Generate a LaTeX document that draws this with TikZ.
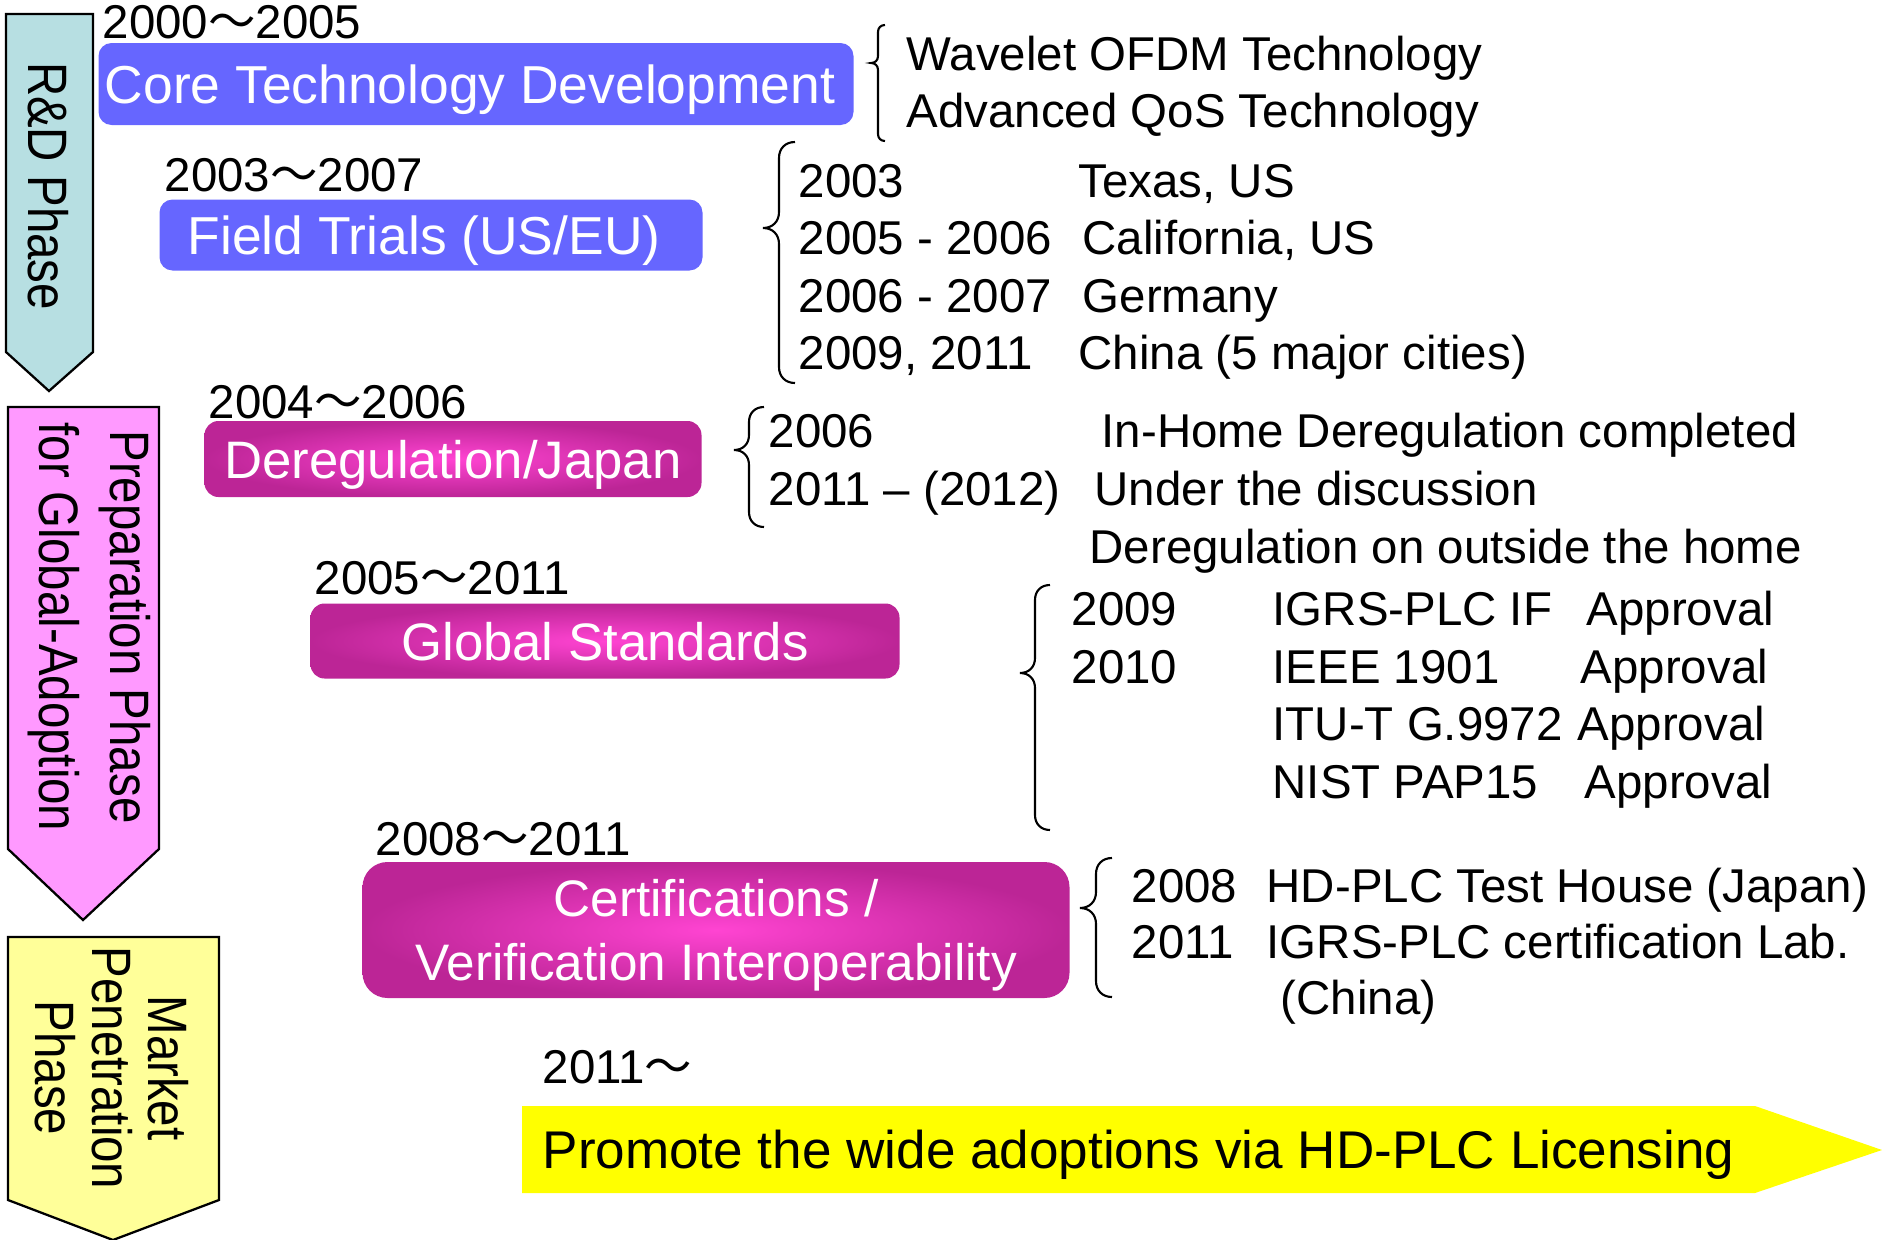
\documentclass[tikz,border=0pt]{standalone}
\usepackage{fontspec}
\setmainfont{Liberation Sans}
\newfontfamily\cjk{Noto Sans CJK JP}
\usepackage{tikz}
\newcommand{\til}{{\cjk ～}}
\definecolor{rdteal}{HTML}{B7DFE2}
\definecolor{prepink}{HTML}{FF99FF}
\definecolor{mktyellow}{HTML}{FFFF99}
\definecolor{techblue}{HTML}{6666FF}
\definecolor{magout}{HTML}{BC2596}
\definecolor{magin}{HTML}{FF44D2}
\definecolor{promoyellow}{HTML}{FFFF00}
\newcommand{\curlybr}[5]{%
  \draw[brc] ({#1+#2},#3) .. controls ({#1+0.7*#2},#3) and ({#1+0.5*#2},{#3+0.2*#2}) .. ({#1+0.5*#2},{#3+0.5*#2})
    -- ({#1+0.5*#2},{#4-0.5*#2}) .. controls ({#1+0.5*#2},{#4-0.2*#2}) and ({#1+0.3*#2},#4) .. (#1,#4)
    .. controls ({#1+0.3*#2},#4) and ({#1+0.5*#2},{#4+0.2*#2}) .. ({#1+0.5*#2},{#4+0.5*#2})
    -- ({#1+0.5*#2},{#5-0.5*#2}) .. controls ({#1+0.5*#2},{#5-0.2*#2}) and ({#1+0.7*#2},#5) .. ({#1+#2},#5);}

\begin{document}
\begin{tikzpicture}[x=0.1mm,y=-0.1mm,
  txt/.style={anchor=base west,inner sep=0pt,font=\fontsize{13.5}{16.3}\selectfont},
  phase/.style={draw=black,line width=0.65pt},
  phasetxt/.style={rotate=-90,yscale=1.17,align=center,inner sep=0pt,font=\fontsize{13.5}{16.3}\selectfont},
  bluebox/.style={fill=techblue,rounded corners=1.3mm,text=white,inner sep=0pt,text depth=0pt,font=\fontsize{15.2}{18.1}\selectfont},
  magbox/.style={shading=radial,inner color=magin,outer color=magout,rounded corners=1.4mm,text=white,inner sep=0pt,text depth=0pt,align=center,font=\fontsize{15}{18.1}\selectfont},
  brc/.style={line width=0.6pt}]

\useasboundingbox (0,0) rectangle (1888,1240);

\filldraw[phase,fill=rdteal] (6,14) -- (93,14) -- (93,352) -- (49,391) -- (6,352) -- cycle;
\filldraw[phase,fill=prepink] (8,407) -- (159,407) -- (159,849) -- (83,920) -- (8,849) -- cycle;
\filldraw[phase,fill=mktyellow] (8,937) -- (219,937) -- (219,1200) -- (113,1240) -- (8,1200) -- cycle;
\node[phasetxt] (rd) at (48,186) {R\&D Phase};
\node[phasetxt,font=\fontsize{13.5}{17.2}\selectfont] (prep) at (89,627) {Preparation Phase\\for Global-Adoption};
\node[phasetxt,font=\fontsize{13.5}{13.8}\selectfont] (mkt) at (112,1068) {Market\\Penetration\\Phase};

\node[bluebox,minimum width=75.5mm,minimum height=8.2mm] (core) at (476,84) {Core Technology Development\hspace*{1.2mm}};
\node[bluebox,minimum width=54.3mm,minimum height=7.1mm] (field) at (431,235) {Field Trials (US/EU)\hspace*{1.4mm}};
\node[magbox,minimum width=49.7mm,minimum height=7.6mm] (dereg) at (453,459) {Deregulation/Japan};
\node[magbox,minimum width=58.9mm,minimum height=7.5mm] (global) at (605,641) {Global Standards};
\node[magbox,rounded corners=2.5mm,minimum width=70.7mm,minimum height=13.6mm,font=\fontsize{14.6}{18.1}\selectfont] (cert) at (716,930) {Certifications /\\Verification Interoperability};

\node[txt] (ycore) at (102,39) {2000\til2005};
\node[txt] (yfield) at (164,191) {2003\til2007};
\node[txt] (ydereg) at (208,418) {2004\til2006};
\node[txt] (yglobal) at (314,594) {2005\til2011};
\node[txt] (ycert) at (375,855) {2008\til2011};
\node[txt] (ypromo) at (542,1083) {2011\til};

\fill[promoyellow] (522,1106) -- (1755,1106) -- (1882,1150) -- (1755,1193) -- (522,1193) -- cycle;
\node[txt,font=\fontsize{15.1}{18.1}\selectfont] (promo) at (542,1168) {Promote the wide adoptions via HD-PLC Licensing};

\curlybr{871}{14}{25}{63}{141}
\node[txt] (wavelet) at (906,70) {Wavelet OFDM Technology};
\node[txt] (qos) at (906,128) {Advanced QoS Technology};

\curlybr{763}{32}{142}{228}{383}
\node[txt] (ft1) at (798,197) {2003};
\node[txt] (ft2) at (798,254) {2005 - 2006};
\node[txt] (ft3) at (798,312) {2006 - 2007};
\node[txt] (ft4) at (798,369) {2009, 2011};
\node[txt] (texas) at (1078,197) {Texas, US};
\node[txt] (calif) at (1082,254) {California, US};
\node[txt] (germany) at (1082,312) {Germany};
\node[txt] (china) at (1078,369) {China (5 major cities)};

\curlybr{734}{30}{407}{450}{527}
\node[txt] (dr1) at (768,447) {2006};
\node[txt] (dr2) at (768,505) {2011 – (2012)};
\node[txt] (inhome) at (1101,447) {In-Home Deregulation completed};
\node[txt] (discuss) at (1094,505) {Under the discussion};
\node[txt] (outside) at (1089,563) {Deregulation on outside the home};

\curlybr{1020}{30}{585}{673}{830}
\node[txt] (gs1) at (1071,625) {2009};
\node[txt] (gs2) at (1071,683) {2010};
\node[txt] (igrs) at (1272,625) {IGRS-PLC IF};
\node[txt] (ieee) at (1272,683) {IEEE 1901};
\node[txt] (itu) at (1272,740) {ITU-T G.9972};
\node[txt] (nist) at (1272,798) {NIST PAP15};
\node[txt] (ap1) at (1586,625) {Approval};
\node[txt] (ap2) at (1580,683) {Approval};
\node[txt] (ap3) at (1577,740) {Approval};
\node[txt] (ap4) at (1584,798) {Approval};

\curlybr{1080}{32}{858}{908}{997}
\node[txt] (ce1) at (1131,902) {2008};
\node[txt] (ce2) at (1131,958) {2011};
\node[txt] (house) at (1266,902) {HD-PLC Test House (Japan)};
\node[txt] (lab) at (1266,958) {IGRS-PLC certification Lab.};
\node[txt] (cn) at (1280,1014) {(China)};
\end{tikzpicture}
\end{document}
